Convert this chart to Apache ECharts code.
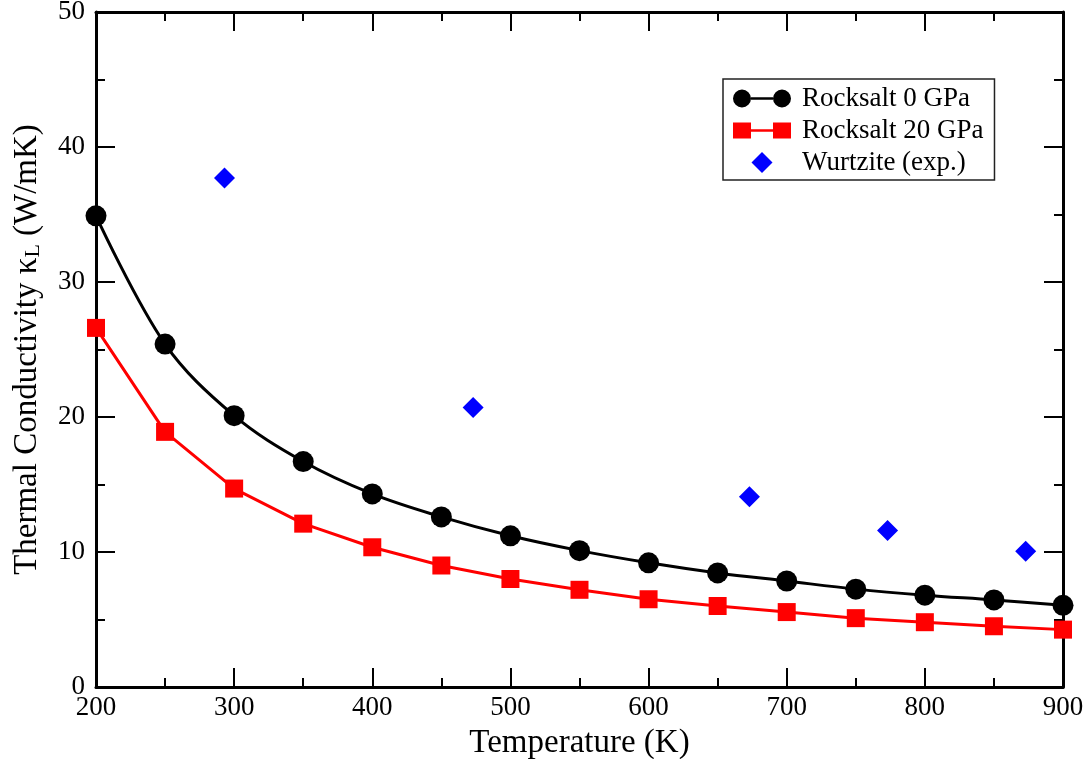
<!DOCTYPE html>
<html>
<head>
<meta charset="utf-8">
<script src="https://cdn.jsdelivr.net/npm/echarts@6/dist/echarts.min.js"></script>
<style>html,body{margin:0;padding:0;background:#fff}#c{width:1088px;height:759px}</style>
</head>
<body>
<div id="c"></div>
<script>
const temps = [200,250,300,350,400,450,500,550,600,650,700,750,800,850,900];
const rock0 = [34.9,25.4,20.1,16.7,14.3,12.6,11.2,10.1,9.2,8.45,7.85,7.25,6.8,6.45,6.05];
const rock20 = [26.6,18.9,14.7,12.1,10.35,9.0,8.0,7.2,6.5,6.0,5.55,5.1,4.8,4.5,4.25];
const wurtziteT = [293,473,673,773,873];
const wurtziteK = [37.7,20.7,14.1,11.6,10.05];
const seriesNames = ['Rocksalt 0 GPa','Rocksalt 20 GPa','Wurtzite (exp.)'];
const xRange = [200, 900], xMajor = 100, xMinor = 50;
const yRange = [0, 50], yMajor = 10, yMinor = 5;

const FONT = '"Liberation Serif", "DejaVu Serif", serif';
const iconBlack = 'path://M0,0 M58,21 M0,10.5 A9,9 0 1,0 18,10.5 A9,9 0 1,0 0,10.5 Z M18,9.2 L40,9.2 L40,11.8 L18,11.8 Z M40,10.5 A9,9 0 1,0 58,10.5 A9,9 0 1,0 40,10.5 Z';
const iconRed = 'path://M0,0 M58,21 M0,2.5 L18,2.5 L18,18.5 L0,18.5 Z M18,9.2 L40,9.2 L40,11.8 L18,11.8 Z M40,2.5 L58,2.5 L58,18.5 L40,18.5 Z';
const iconBlue = 'path://M0,0 M58,21 M29,0 L39.5,10.5 L29,21 L18.5,10.5 Z';

const axisLine = {show:true, onZero:false, lineStyle:{color:'#000', width:3}};
const tick = {show:true, inside:true, length:19, lineStyle:{color:'#000', width:2}};
const minorTick = {show:true, inside:true, length:9, lineStyle:{color:'#000', width:2}};
const gridPos = {left:96, top:12, right:25, bottom:72, outerBoundsMode:'none', containLabel:false};

function minorAxis(range, interval, position, gridIndex) {
  return {type:'value', gridIndex, min:range[0], max:range[1], interval, position,
    axisLine:{show:true, onZero:false, lineStyle:{color:'rgba(0,0,0,0)', width:1}},
    axisTick:minorTick, axisLabel:{show:false}, splitLine:{show:false}};
}

const chart = echarts.init(document.getElementById('c'));
chart.setOption({
  animation:false,
  backgroundColor:'#fff',
  grid:[Object.assign({}, gridPos), Object.assign({}, gridPos)],
  legend:{
    orient:'vertical', left:723, top:79,
    padding:[6,11,4,10],
    borderColor:'#222', borderWidth:1.5,
    itemWidth:58, itemHeight:21, itemGap:5,
    textStyle:{fontFamily:FONT, fontSize:27, color:'#000', padding:[0,0,0,6]},
    data:[
      {name:seriesNames[0], icon:iconBlack},
      {name:seriesNames[1], icon:iconRed},
      {name:seriesNames[2], icon:iconBlue}
    ]
  },
  xAxis:[{
    type:'value', gridIndex:0, min:xRange[0], max:xRange[1], interval:xMajor,
    name:'Temperature (K)', nameLocation:'middle', nameGap:40,
    nameTextStyle:{fontFamily:FONT, fontSize:33, color:'#000'},
    axisLine:axisLine, axisTick:tick,
    axisLabel:{fontFamily:FONT, fontSize:27, color:'#000', margin:7},
    splitLine:{show:false}
  },{
    type:'value', gridIndex:0, min:xRange[0], max:xRange[1], interval:xMajor, position:'top',
    axisLine:axisLine, axisTick:tick,
    axisLabel:{show:false}, splitLine:{show:false}
  },
  minorAxis(xRange, xMinor, 'bottom', 1),
  minorAxis(xRange, xMinor, 'top', 1)
  ],
  yAxis:[{
    type:'value', gridIndex:0, min:yRange[0], max:yRange[1], interval:yMajor,
    name:'{a|Thermal Conductivity κ}{s|L}{a| (W/mK)}', nameLocation:'middle', nameGap:52,
    nameTextStyle:{fontFamily:FONT, fontSize:33, color:'#000',
      rich:{
        a:{fontFamily:FONT, fontSize:33, color:'#000', lineHeight:40, verticalAlign:'bottom'},
        s:{fontFamily:FONT, fontSize:22, color:'#000', lineHeight:14, verticalAlign:'bottom'}
      }},
    axisLine:axisLine, axisTick:tick,
    axisLabel:{fontFamily:FONT, fontSize:27, color:'#000', margin:11},
    splitLine:{show:false}
  },{
    type:'value', gridIndex:0, min:yRange[0], max:yRange[1], interval:yMajor, position:'right',
    axisLine:axisLine, axisTick:tick,
    axisLabel:{show:false}, splitLine:{show:false}
  },
  minorAxis(yRange, yMinor, 'left', 1),
  minorAxis(yRange, yMinor, 'right', 1)
  ],
  series:[{
    name:seriesNames[0], type:'line', smooth:0.35, xAxisIndex:0, yAxisIndex:0,
    data:temps.map((t,i)=>[t,rock0[i]]),
    symbol:'circle', symbolSize:21,
    lineStyle:{color:'#000', width:3},
    itemStyle:{color:'#000'}, z:3
  },{
    name:seriesNames[1], type:'line', xAxisIndex:0, yAxisIndex:0,
    data:temps.map((t,i)=>[t,rock20[i]]),
    symbol:'rect', symbolSize:[18,18],
    lineStyle:{color:'#ff0000', width:3},
    itemStyle:{color:'#ff0000'}, z:4
  },{
    name:seriesNames[2], type:'scatter', xAxisIndex:0, yAxisIndex:0,
    data:wurtziteT.map((t,i)=>[t,wurtziteK[i]]),
    symbol:'diamond', symbolSize:[21,21],
    itemStyle:{color:'#0000ff', opacity:1}, z:5
  }]
});
</script>
</body>
</html>
